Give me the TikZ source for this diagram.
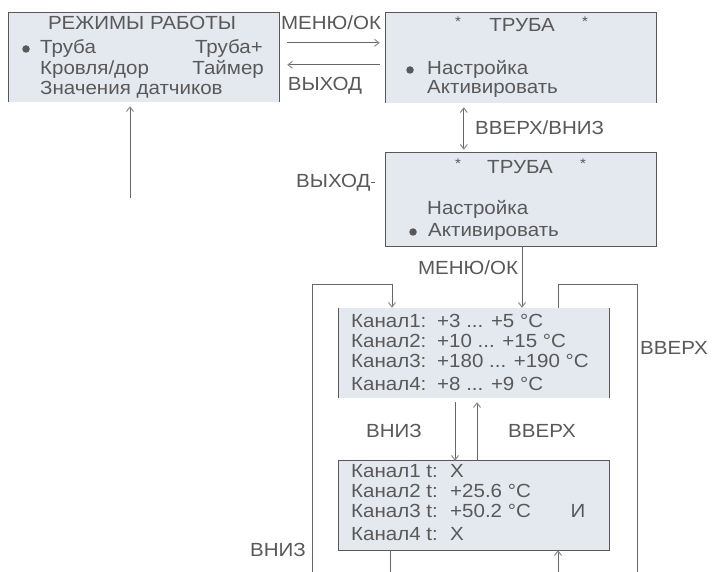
\documentclass[tikz,border=0pt]{standalone}
\usepackage{fontspec}
\setmainfont{Liberation Sans}[FakeStretch=1.08]
\usetikzlibrary{arrows.meta,calc}
\definecolor{boxfill}{HTML}{E4E8EF}
\definecolor{txt}{HTML}{595959}
\definecolor{ln}{HTML}{676767}
\definecolor{bd}{HTML}{585858}
\definecolor{tipc}{HTML}{8C8C8C}
\begin{document}
\begin{tikzpicture}[x=1pt,y=-1pt,
  panel/.style={fill=boxfill, inner sep=0pt, minimum width=270pt, minimum height=#1},
  frame/.style={draw=bd, line width=1.1pt},
  lbl/.style={text=txt, font=\fontsize{19}{21}\selectfont, inner sep=0pt, anchor=mid west, yshift=-2pt},
  clbl/.style={lbl, anchor=mid},
  rlbl/.style={lbl, anchor=mid east},
  star/.style={text=txt, font=\fontsize{14}{16}\selectfont, inner sep=0pt, anchor=mid},
  bullet/.style={circle, fill=txt, inner sep=0pt, minimum size=7.5pt},
  wire/.style={draw=ln, line width=1pt},
  tip/.style={-{Straight Barb[length=4.5pt,width=7pt,color=tipc]}},
  tips/.style={{Straight Barb[length=4.5pt,width=7pt,color=tipc]}-{Straight Barb[length=4.5pt,width=7pt,color=tipc]}}]
\useasboundingbox (0,0) rectangle (713,572);
\clip (0,0) rectangle (713,572);
\fill[white] (0,0) rectangle (713,572);

% panels
\node[panel=89pt] (box1) at (144,57.5) {};
\node[panel=90pt] (box2) at (521,58) {};
\node[panel=93pt] (box3) at (521,199.5) {};
\node[panel=90pt] (box4) at (474,353) {};
\node[panel=89pt] (box5) at (474,505.5) {};

\draw[frame] (box1.south west) -- (box1.north west) -- (box1.north east) -- (box1.south east);
\draw[frame] (box2.south west) -- (box2.north west) -- (box2.north east) -- (box2.south east);
\draw[frame] (box3.south west) rectangle (box3.north east);
\draw[frame] (box4.south west) -- (box4.north west);
\draw[frame] (box4.south east) -- (box4.north east);
\draw[frame] (box5.south west) rectangle (box5.north east);

% box 1 text
\node[clbl] (t1h) at (142,25) {РЕЖИМЫ РАБОТЫ};
\node[bullet] (t1b) at (26,49) {};
\node[lbl] (t1a) at (40,49) {Труба};
\node[rlbl] (t1c) at (263,49) {Труба+};
\node[lbl] (t1d) at (40,70) {Кровля/дор};
\node[rlbl] (t1e) at (264,70) {Таймер};
\node[lbl] (t1f) at (40,90) {Значения датчиков};

% box 2 text
\node[star] (t2s1) at (458,24) {*};
\node[clbl] (t2h) at (522,27) {ТРУБА};
\node[star] (t2s2) at (585,24) {*};
\node[bullet] (t2b) at (410,70) {};
\node[lbl] (t2a) at (427,70) {Настройка};
\node[lbl] (t2c) at (427,89) {Активировать};

% box 3 text
\node[star] (t3s1) at (458,166) {*};
\node[clbl] (t3h) at (520,169) {ТРУБА};
\node[star] (t3s2) at (583,166) {*};
\node[lbl] (t3a) at (427,210) {Настройка};
\node[bullet] (t3b) at (413,232) {};
\node[lbl] (t3c) at (428,232) {Активировать};

% box 4 text
\node[lbl] (k1) at (351,323) {Канал1:};
\node[lbl] (v1) at (437,323) {+3 ... +5 °C};
\node[lbl] (k2) at (351,343) {Канал2:};
\node[lbl] (v2) at (437,343) {+10 ... +15 °C};
\node[lbl] (k3) at (351,363) {Канал3:};
\node[lbl] (v3) at (437,363) {+180 ... +190 °C};
\node[lbl] (k4) at (351,386) {Канал4:};
\node[lbl] (v4) at (437,386) {+8 ... +9 °C};

% box 5 text
\node[lbl] (m1) at (351,473) {Канал1 t:};
\node[lbl] (w1) at (450,473) {X};
\node[lbl] (m2) at (351,493) {Канал2 t:};
\node[lbl] (w2) at (450,493) {+25.6 °C};
\node[lbl] (m3) at (351,513) {Канал3 t:};
\node[lbl] (w3) at (450,513) {+50.2 °C};
\node[clbl] (w3b) at (578,513) {И};
\node[lbl] (m4) at (351,536) {Канал4 t:};
\node[lbl] (w4) at (450,536) {X};

% connector labels
\node[clbl] (lmenu1) at (331,25) {МЕНЮ/ОК};
\node[clbl] (lexit1) at (325,86) {ВЫХОД};
\node[lbl] (lupdn) at (475,130) {ВВЕРХ/ВНИЗ};
\node[lbl] (lexit2) at (296,183) {ВЫХОД};
\node[clbl] (lmenu2) at (468,270) {МЕНЮ/ОК};
\node[lbl] (lup1) at (640,350) {ВВЕРХ};
\node[clbl] (ldn1) at (394,433) {ВНИЗ};
\node[clbl] (lup2) at (542,433) {ВВЕРХ};
\node[lbl] (ldn2) at (250,552) {ВНИЗ};

% connectors
\draw[wire,tip] ($(box1.north east)+(8,30)$) -- ($(box2.north west)+(-6,30)$);
\draw[wire,tip] ($(box2.north west)+(-6,52)$) -- ($(box1.north east)+(8,52)$);
\draw[wire,tips] ($(box2.south west)+(78,4)$) -- ($(box3.north west)+(78,-3)$);
\draw[wire,tip] (box3.south -| 522,0) -- (box4.north -| 522,0);
\coordinate (exitend) at ($(lexit2.east)+(4,0)$);
\draw[wire] (lexit2.east) -- (exitend);
\coordinate (modein) at (130,198);
\draw[wire,tip,shorten >=4pt] (modein) -- (box1.south -| modein);
% loops
\draw[wire,tip] (box5.south -| 390,0) -- (390,590) -- (312,590) -- (312,285) -- (392,285) -- (box4.north -| 392,0);
\draw[wire,tip] (box4.north -| 558,0) -- (558,285) -- (637,285) -- (637,590) -- (558,590) -- (box5.south -| 558,0);
% between box 4 and box 5
\draw[wire,tip,shorten <=4pt] (box4.south -| 455,0) -- (box5.north -| 455,0);
\draw[wire,tip,shorten >=4pt] (box5.north -| 477,0) -- (box4.south -| 477,0);
\end{tikzpicture}
\end{document}
